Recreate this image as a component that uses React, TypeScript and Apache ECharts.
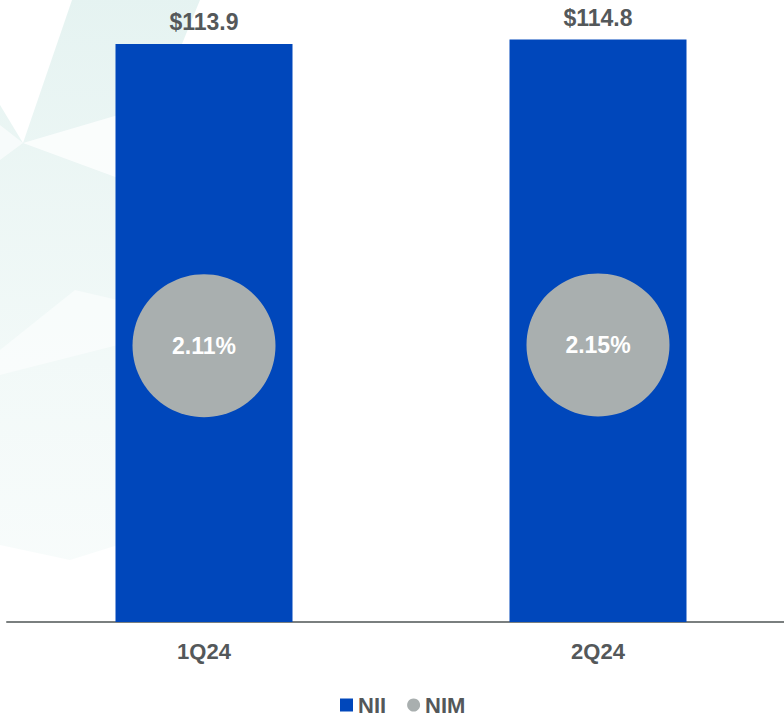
import React, { useEffect, useRef } from "react";
import * as echarts from "echarts";

const categories = ["1Q24", "2Q24"];
const niiValues = [113.9, 114.8];
const nimValues = [2.11, 2.15];
const seriesNames = ["NII", "NIM"];

const FONT = "'Liberation Sans', Arial, Helvetica, sans-serif";
const TEXT = "#54585A";
const BLUE = "#0047BB";
const GRAY = "#A9AFAF";

export default function App() {
  const ref = useRef<HTMLDivElement>(null);
  useEffect(() => {
    if (!ref.current) return;
    const chart = echarts.init(ref.current, undefined, { renderer: "svg" });
    const paleFill = new echarts.graphic.LinearGradient(0, 0, 0, 1, [
      { offset: 0, color: "rgba(212,235,232,0.6)" },
      { offset: 0.5, color: "rgba(220,239,236,0.45)" },
      { offset: 1, color: "rgba(230,244,242,0.3)" },
    ]);
    chart.setOption({
      animation: false,
      backgroundColor: "#ffffff",
      textStyle: { fontFamily: FONT },
      graphic: [
        {
          type: "polygon", z: 0, silent: true,
          shape: { points: [[72, 0], [200, 0], [118, 200], [118, 545], [70, 560], [0, 545], [0, 105], [23, 143]] },
          style: { fill: paleFill },
        },
        {
          type: "polygon", z: 1, silent: true,
          shape: { points: [[23, 143], [118, 115], [118, 178]] },
          style: { fill: "rgba(255,255,255,0.75)" },
        },
        {
          type: "polygon", z: 1, silent: true,
          shape: { points: [[23, 143], [0, 125], [0, 160]] },
          style: { fill: "rgba(255,255,255,0.6)" },
        },
        {
          type: "polygon", z: 1, silent: true,
          shape: { points: [[75, 290], [118, 300], [118, 345], [0, 375], [0, 350]] },
          style: { fill: "rgba(255,255,255,0.5)" },
        },
      ],
      legend: {
        data: [
          { name: seriesNames[0], icon: "rect" },
          { name: seriesNames[1], icon: "circle" },
        ],
        left: 335,
        top: 689,
        itemWidth: 13,
        itemHeight: 13,
        itemGap: 21,
        textStyle: { fontFamily: FONT, fontSize: 22, fontWeight: "bold", color: TEXT },
      },
      grid: { left: 7, top: 13, width: 788, height: 609, outerBoundsMode: "none", containLabel: false },
      xAxis: {
        type: "category",
        data: categories,
        axisLine: { show: true, lineStyle: { color: "#7A7F7F", width: 2 } },
        axisTick: { show: false },
        axisLabel: { margin: 18, fontFamily: FONT, fontSize: 22, fontWeight: "bold", color: TEXT },
        splitLine: { show: false },
      },
      yAxis: [
        { type: "value", min: 0, max: 120, show: false, splitLine: { show: false } },
        { type: "value", min: -11.5, max: 18.5, show: false, splitLine: { show: false } },
      ],
      series: [
        {
          name: seriesNames[0],
          type: "bar",
          data: niiValues,
          barWidth: 177,
          itemStyle: { color: BLUE },
          label: {
            show: true,
            position: "top",
            distance: 10,
            formatter: (p: any) => "$" + Number(p.value).toFixed(1),
            fontFamily: FONT,
            fontSize: 23,
            fontWeight: "bold",
            color: TEXT,
          },
        },
        {
          name: seriesNames[1],
          type: "scatter",
          yAxisIndex: 1,
          data: nimValues,
          symbol: "circle",
          symbolSize: 143,
          itemStyle: { color: GRAY, opacity: 1 },
          label: {
            show: true,
            position: "inside",
            formatter: (p: any) => Number(p.value).toFixed(2) + "%",
            fontFamily: FONT,
            fontSize: 23,
            fontWeight: "bold",
            color: "#ffffff",
          },
        },
      ],
    });
    return () => chart.dispose();
  }, []);
  return (
    <div
      ref={ref}
      style={{ position: "absolute", left: 0, top: 0, width: 784, height: 719 }}
    />
  );
}
